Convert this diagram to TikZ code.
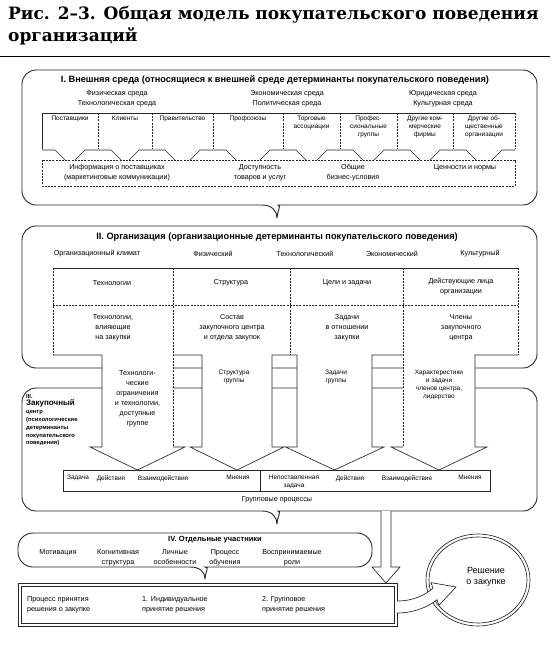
\documentclass[tikz,border=0pt]{standalone}
\usepackage{fontspec}
\setmainfont{Liberation Sans}
\newfontfamily\titlefont{DejaVu Serif}
\begin{document}
\begin{tikzpicture}[x=1pt,y=-1pt,
  frame/.style={draw=black!85, line width=0.9pt},
  thinl/.style={draw=black!85, line width=0.65pt},
  dsh/.style={draw=black!85, line width=0.7pt, dash pattern=on 2pt off 1.2pt},
  t/.style={font=\fontsize{7.2}{10}\selectfont, align=center, inner sep=0pt, text=black},
  ts/.style={font=\fontsize{6.5}{7.8}\selectfont, align=center, inner sep=0pt, text=black},
  tb/.style={font=\bfseries\fontsize{9.2}{10}\selectfont, align=center, inner sep=0pt},
]
\useasboundingbox (0,0) rectangle (550,645);
\fill[white] (0,0) rectangle (550,645);

% title
\node[anchor=north west, inner sep=0pt, align=left, font=\titlefont\bfseries\fontsize{17}{22}\selectfont] (title) at (8,6) {Рис. 2–3. Общая модель покупательского поведения\\организаций};
\draw[line width=1pt] (0,56) coordinate (rl) -- (550,56) coordinate (rr);

% ---------- Box I ----------
\draw[frame] (277,218) .. controls (277,211) and (272,205) .. (262,205) [rounded corners=14] -- (22,205) -- (22,70) -- (537,70) -- (537,205) -- (292,205) [sharp corners] .. controls (282,205) and (277,211) .. (277,218);
\node[tb] (h1) at (275,80) {I. Внешняя среда (относящиеся к внешней среде детерминанты покупательского поведения)};
\node[t] (e1) at (117,98.5) {Физическая среда\\Технологическая среда};
\node[t] (e2) at (287,98.5) {Экономическая среда\\Политическая среда};
\node[t] (e3) at (443,98.5) {Юридическая среда\\Культурная среда};
\draw[thinl] (42,149) -- (42,113) -- (515,113);
\foreach \x in {98,152,213,283,340,397,453} \draw[dsh] (\x,113) -- (\x,149);
\draw[dsh] (515,113) -- (515,149);
\foreach \c in {98,152,213,283,340,397,453} \draw[thinl] (\c-23,160) -- (\c-13,150) -- (\c+13,150) -- (\c+23,160);
\draw[thinl] (42,150) -- (55,150) -- (65,160);
\draw[thinl] (492,160) -- (502,150) -- (515,150);
\node[ts, anchor=north] (g1) at (70,116) {Поставщики};
\node[ts, anchor=north] (g2) at (125,116) {Клиенты};
\node[ts, anchor=north] (g3) at (182.5,116) {Правительство};
\node[ts, anchor=north] (g4) at (248,116) {Профсоюзы};
\node[ts, anchor=north] (g5) at (311.5,116) {Торговые\\ассоциации};
\node[ts, anchor=north] (g6) at (368.5,116) {Профес-\\сиональные\\группы};
\node[ts, anchor=north] (g7) at (425,116) {Другие ком-\\мерческие\\фирмы};
\node[ts, anchor=north] (g8) at (484,116) {Другие об-\\щественные\\организации};
\draw[dsh] (42,160) rectangle (515,186);
\node[t] (i1) at (117,173) {Информация о поставщиках\\(маркетинговые коммуникации)};
\node[t] (i2) at (260,173) {Доступность\\товаров и услуг};
\node[t] (i3) at (353,173) {Общие\\бизнес-условия};
\node[t, anchor=north] (i4) at (465,164) {Ценности и нормы};

% ---------- Box II and III outlines ----------
\draw[frame, rounded corners=14] (22,226) rectangle (537,368);
\draw[frame] (277,524) .. controls (277,517) and (272,511) .. (262,511) [rounded corners=14] -- (22,511) -- (22,388) -- (537,388) -- (537,511) -- (292,511) [sharp corners] .. controls (282,511) and (277,517) .. (277,524);

% arrow fills
\fill[white] (53,268) -- (53,355) -- (102,355) -- (102,447) -- (90,447) -- (137.5,470) -- (185,447) -- (173,447) -- (173,268) -- cycle;
\fill[white] (173,268) -- (173,355) -- (202,355) -- (202,447) -- (190,447) -- (237,470) -- (284,447) -- (272,447) -- (272,355) -- (290,355) -- (290,268) -- cycle;
\fill[white] (290,268) -- (290,355) -- (297,355) -- (297,447) -- (285.5,447) -- (334.5,470) -- (384,447) -- (372,447) -- (372,355) -- (403,355) -- (403,268) -- cycle;
\fill[white] (403,268) -- (403,447) -- (391,447) -- (439,470) -- (487,447) -- (475,447) -- (475,355) -- (518,355) -- (518,268) -- cycle;

% arrow outlines
\draw[thinl] (53,268) -- (518,268);
\draw[dsh] (53,305) -- (518,305);
\draw[dsh] (53,268) -- (53,355);
\draw[dsh] (518,268) -- (518,355);
\draw[dsh] (173,268) -- (173,447);
\draw[dsh] (290,268) -- (290,355);
\draw[dsh] (403,268) -- (403,447);
\draw[thinl] (53,355) -- (102,355) -- (102,447) -- (90,447) -- (137.5,470) -- (185,447) -- (173,447);
\draw[thinl] (173,355) -- (202,355) -- (202,447) -- (190,447) -- (237,470) -- (284,447) -- (272,447) -- (272,355) -- (290,355);
\draw[thinl] (290,355) -- (297,355) -- (297,447) -- (285.5,447) -- (334.5,470) -- (384,447) -- (372,447) -- (372,355) -- (403,355);
\draw[thinl] (403,447) -- (391,447) -- (439,470) -- (487,447) -- (475,447) -- (475,355) -- (518,355);

% Box II texts
\node[tb] (h2) at (277,237) {II. Организация (организационные детерминанты покупательского поведения)};
\node[t] (c1) at (97,254) {Организационный климат};
\node[t] (c2) at (213,254) {Физический};
\node[t] (c3) at (305,254) {Технологический};
\node[t] (c4) at (392,254) {Экономический};
\node[t] (c5) at (480,254) {Культурный};
\node[t] (r1) at (112,283) {Технологии};
\node[t] (r2) at (231,283) {Структура};
\node[t] (r3) at (347,283) {Цели и задачи};
\node[t] (r4) at (461,287) {Действующие лица\\организации};
\node[t] (s1) at (113,328) {Технологии,\\влияющие\\на закупки};
\node[t] (s2) at (232,328) {Состав\\закупочного центра\\и отдела закупок};
\node[t] (s3) at (347,328) {Задачи\\в отношении\\закупки};
\node[t] (s4) at (461,328) {Члены\\закупочного\\центра};

% arrow texts
\node[t, anchor=north] (a1) at (137.5,370) {Технологи-\\ческие\\ограничения\\и технологии,\\доступные\\группе};
\node[ts, anchor=north] (a2) at (234,370) {Структура\\группы};
\node[ts, anchor=north] (a3) at (336,370) {Задачи\\группы};
\node[ts, anchor=north] (a4) at (439,370) {Характеристики\\и задачи\\членов центра,\\лидерство};

% Box III texts
\node[anchor=north west, inner sep=0pt, align=left, font=\bfseries\fontsize{5.8}{7.8}\selectfont] (h3) at (26,394) {III.\\{\fontsize{8}{9}\selectfont Закупочный}\\центр\\(психологические\\детерминанты\\покупательского\\поведения)};
\draw[thinl] (63,470) rectangle (490,491);
\draw[thinl] (260,470) -- (260,491);
\node[ts, anchor=north] (p1) at (78,475) {Задача};
\node[ts, anchor=north] (p2) at (111,475) {Действия};
\node[ts, anchor=north] (p3) at (163,475) {Взаимодействия};
\node[ts, anchor=north] (p4) at (238,475) {Мнения};
\node[ts, anchor=north] (p5) at (294,475) {Непоставленная\\задача};
\node[ts, anchor=north] (p6) at (350,475) {Действия};
\node[ts, anchor=north] (p7) at (407,475) {Взаимодействие};
\node[ts, anchor=north] (p8) at (470,475) {Мнения};
\node[t] (gp) at (277,500) {Групповые процессы};

% ---------- Box IV ----------
\draw[frame] (205,579) .. controls (205,572) and (200,567) .. (190,567) [rounded corners=15] -- (18,567) -- (18,533) -- (372,533) -- (372,567) -- (220,567) [sharp corners] .. controls (210,567) and (205,572) .. (205,579);
\node[tb, font=\bfseries\fontsize{7.5}{8}\selectfont] (h4) at (215,540) {IV. Отдельные участники};
\node[t, anchor=north] (m1) at (58,549) {Мотивация};
\node[t, anchor=north] (m2) at (118,549) {Когнитивная\\структура};
\node[t, anchor=north] (m3) at (175,549) {Личные\\особенности};
\node[t, anchor=north] (m4) at (225,549) {Процесс\\обучения};
\node[t, anchor=north] (m5) at (292,549) {Воспринимаемые\\роли};

% vertical hollow arrow
\draw[thinl, fill=white] (381,511) -- (381,567) -- (372,567) -- (386,583) -- (400,567) -- (391,567) -- (391,511);

% ---------- final box ----------
\draw[thinl] (18,583) rectangle (397,626);
\draw[thinl] (21,586) rectangle (394,623);
\node[t, anchor=west, align=left] (f1) at (27,604.5) {Процесс принятия\\решения о закупке};
\node[t, anchor=west, align=left] (f2) at (142,604.5) {1. Индивидуальное\\принятие решения};
\node[t, anchor=west, align=left] (f3) at (262,604.5) {2. Групповое\\принятие решения};

% ---------- decision circle ----------
\draw[thinl] (478,580) ellipse [x radius=52, y radius=46];
\draw[thinl] (478,580) ellipse [x radius=49, y radius=43];
\node[font=\fontsize{9}{11}\selectfont, align=center, inner sep=0pt] (dec) at (486,577) {Решение\\о закупке};
\draw[thinl, fill=white] (397,601) .. controls (415,601) and (426,594) .. (433,588.3) -- (431,582.6) -- (456,587) -- (438.8,605.4) -- (437,599.7) .. controls (428,607) and (414,613) .. (397,613);
\end{tikzpicture}
\end{document}
